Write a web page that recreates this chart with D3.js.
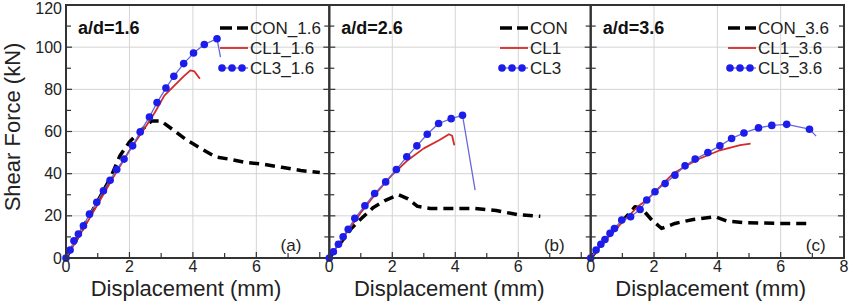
<!DOCTYPE html>
<html>
<head>
<meta charset="utf-8">
<script src="https://cdn.jsdelivr.net/npm/d3@7"></script>
<style>
  body { margin: 0; background: #fff; }
  svg { display: block; font-family: "Liberation Sans", Arial, sans-serif; }
</style>
</head>
<body>
<script>
// data: [displacement mm, shear force kN]
const con16 = [[0,0],[0.5,13.5],[1,27],[1.4,38],[1.7,48.5],[2.0,55],[2.4,61],[2.7,65],[3.0,65],[3.4,60.5],[3.8,56],[4.3,51.5],[4.7,48],[5.1,47],[5.6,45.5],[6.2,44.5],[6.8,43],[7.4,41.5],[8.0,40.5]];
const cl1_16 = [[0,0],[0.5,12.5],[1,25.5],[1.5,38.5],[2,51],[2.5,62],[2.8,69],[3.1,77],[3.4,81.5],[3.7,86],[3.92,89],[4.05,88.5],[4.22,85]];
const cl3_16 = [[0,0],[0.13,3.8],[0.25,8.2],[0.39,11.4],[0.55,15.3],[0.74,20.8],[0.97,26.4],[1.18,31.9],[1.39,36.9],[1.6,42],[1.83,46.9],[2.1,53.2],[2.34,59.8],[2.63,66.9],[2.87,73.7],[3.15,80.6],[3.4,86.2],[3.71,92.2],[4.02,97.2],[4.36,101.3],[4.76,104],[4.87,95.3]];

const con26 = [[0,0],[0.3,6],[0.7,14],[1.0,18.5],[1.4,24],[1.8,27.5],[2.2,30],[2.5,28],[2.8,24.5],[3.2,23.5],[4.0,23.5],[4.6,23.5],[5.3,22.5],[6.0,20.5],[6.7,19.8]];
const cl1_26 = [[0,0],[0.5,11],[1,21.5],[1.5,31],[2,39.5],[2.5,46.5],[3,52],[3.5,56],[3.8,58.7],[3.9,58],[3.97,53.5]];
const cl3_26 = [[0,0],[0.13,3],[0.29,6.5],[0.44,10.1],[0.6,13.6],[0.81,18.8],[1.13,24.8],[1.44,30.6],[1.79,36.1],[2.13,42],[2.46,48],[2.78,53.2],[3.11,58.7],[3.47,63.8],[3.87,66.1],[4.23,67.7],[4.63,32.2]];

const con36 = [[0,0],[0.5,9.5],[1.0,17.5],[1.4,24.3],[1.61,23.5],[1.93,18],[2.24,14],[2.66,16.4],[3.24,18.3],[3.93,19.6],[4.3,17.5],[4.93,16.7],[5.98,16.4],[6.93,16.4]];
const cl1_36 = [[0,0],[0.5,9],[1,17],[1.5,24.5],[1.77,27.5],[2.2,34],[2.61,40.1],[3.05,44],[3.45,47.2],[4.08,51.1],[4.72,53.5],[5.05,54.3]];
const cl3_36 = [[0,0],[0.17,3.8],[0.32,6.5],[0.45,8.8],[0.61,11.7],[0.75,14],[0.98,18],[1.26,19.6],[1.56,23],[1.77,27.5],[2.03,31.4],[2.35,35.3],[2.66,39.3],[2.98,43.7],[3.3,46.9],[3.7,50],[4.08,53.2],[4.45,56.7],[4.84,59.3],[5.3,61.7],[5.72,62.9],[6.19,63.4],[6.91,61.1],[7.12,57.8]];

const legend16 = ["CON_1.6", "CL1_1.6", "CL3_1.6"];
const legend26 = ["CON", "CL1", "CL3"];
const legend36 = ["CON_3.6", "CL1_3.6", "CL3_3.6"];
const ratioLabels = ["a/d=1.6", "a/d=2.6", "a/d=3.6"];
const panelLetters = ["(a)", "(b)", "(c)"];
const yTicks = [0, 20, 40, 60, 80, 100, 120];
const xTicks1 = [0, 2, 4, 6];
const xTicks3 = [0, 2, 4, 6, 8];

const W = 849, H = 304;
const plotTop = 5, plotBottom = 258;

const panels = [
    {left: 66, right: 329.3, xMax: 8.3, series: [con16, cl1_16, cl3_16], legend: legend16, legendX: 220, xTicks: xTicks1},
    {left: 329.3, right: 590.7, xMax: 8.3, series: [con26, cl1_26, cl3_26], legend: legend26, legendX: 500, xTicks: xTicks1},
    {left: 590.7, right: 844, xMax: 8, series: [con36, cl1_36, cl3_36], legend: legend36, legendX: 728, xTicks: xTicks3},
];

const styles = [
    {stroke: "#000", width: 3.5, dash: "10,6", markers: false},
    {stroke: "#d42a2a", width: 1.8, dash: null, markers: false},
    {stroke: "#6666dd", width: 1.3, dash: null, markers: true},
];
const markerColour = "#1c1ceb";

const svg = d3.select("body").append("svg")
    .attr("width", W)
    .attr("height", H);

const y = d3.scaleLinear().domain([0, 120]).range([plotBottom, plotTop]);

panels.forEach((p, i) => {
    const x = d3.scaleLinear().domain([0, p.xMax]).range([p.left, p.right]);
    const g = svg.append("g");

    // grid
    g.selectAll(".vgrid").data([2, 4, 6]).enter().append("line")
        .attr("x1", d => x(d)).attr("x2", d => x(d))
        .attr("y1", plotTop).attr("y2", plotBottom)
        .attr("stroke", "#d4d4d4").attr("stroke-width", 1);
    g.selectAll(".hgrid").data([20, 40, 60, 80, 100]).enter().append("line")
        .attr("x1", p.left).attr("x2", p.right)
        .attr("y1", d => y(d)).attr("y2", d => y(d))
        .attr("stroke", "#d4d4d4").attr("stroke-width", 1);

    // inward ticks
    d3.range(0, 121, 10).forEach(v => {
        const len = v % 20 === 0 ? 6 : 5;
        g.append("line").attr("x1", p.left).attr("x2", p.left + len)
            .attr("y1", y(v)).attr("y2", y(v)).attr("stroke", "#333").attr("stroke-width", 1.2);
        g.append("line").attr("x1", p.right).attr("x2", p.right - len)
            .attr("y1", y(v)).attr("y2", y(v)).attr("stroke", "#333").attr("stroke-width", 1.2);
    });
    d3.range(0, Math.floor(p.xMax) + 1, 1).forEach(v => {
        const len = v % 2 === 0 ? 6 : 5;
        g.append("line").attr("x1", x(v)).attr("x2", x(v))
            .attr("y1", plotBottom).attr("y2", plotBottom - len).attr("stroke", "#333").attr("stroke-width", 1.2);
    });

    // curves
    const line = d3.line().x(d => x(d[0])).y(d => y(d[1]));
    p.series.forEach((s, k) => {
        const st = styles[k];
        g.append("path").datum(s)
            .attr("d", line)
            .attr("fill", "none")
            .attr("stroke", st.stroke)
            .attr("stroke-width", st.width)
            .attr("stroke-dasharray", st.dash)
            .attr("stroke-linejoin", "round");
        if (st.markers) {
            g.selectAll(".mk").data(s.slice(0, -1)).enter().append("circle")
                .attr("cx", d => x(d[0]))
                .attr("cy", d => y(d[1]))
                .attr("r", 3.8)
                .attr("fill", markerColour);
        }
    });

    // frame
    g.append("rect")
        .attr("x", p.left).attr("y", plotTop)
        .attr("width", p.right - p.left).attr("height", plotBottom - plotTop)
        .attr("fill", "none").attr("stroke", "#333").attr("stroke-width", 2);

    // x tick labels
    g.selectAll(".xl").data(p.xTicks).enter().append("text")
        .attr("x", d => x(d)).attr("y", 271.5)
        .attr("text-anchor", "middle")
        .attr("font-size", 16).attr("fill", "#222")
        .text(d => d);

    // x title
    g.append("text")
        .attr("x", p.left + 120).attr("y", 296)
        .attr("text-anchor", "middle")
        .attr("font-size", 22).attr("fill", "#222")
        .text("Displacement (mm)");

    // ratio label
    g.append("text")
        .attr("x", p.left + 12).attr("y", 28)
        .attr("font-size", 18).attr("font-weight", "bold").attr("fill", "#111")
        .attr("dominant-baseline", "central")
        .text(ratioLabels[i]);

    // panel letter
    g.append("text")
        .attr("x", p.left + 225).attr("y", 245)
        .attr("text-anchor", "middle").attr("dominant-baseline", "central")
        .attr("font-size", 17).attr("fill", "#222")
        .text(panelLetters[i]);

    // legend
    p.legend.forEach((name, k) => {
        const st = styles[k];
        const ly = 28 + k * 20;
        const lx = p.legendX;
        if (st.markers) {
            g.append("line").attr("x1", lx).attr("x2", lx + 28).attr("y1", ly).attr("y2", ly)
                .attr("stroke", st.stroke).attr("stroke-width", st.width);
            [2, 12, 22].forEach(o => {
                g.append("circle").attr("cx", lx + o).attr("cy", ly).attr("r", 3.8).attr("fill", markerColour);
            });
        } else {
            g.append("line").attr("x1", lx).attr("x2", lx + 28).attr("y1", ly).attr("y2", ly)
                .attr("stroke", st.stroke).attr("stroke-width", st.width)
                .attr("stroke-dasharray", st.dash ? "12,5" : null);
        }
        g.append("text")
            .attr("x", lx + 30).attr("y", ly)
            .attr("dominant-baseline", "central")
            .attr("font-size", 17).attr("fill", "#222")
            .text(name);
    });
});

// y tick labels on first panel only
svg.selectAll(".yl").data(yTicks).enter().append("text")
    .attr("x", 62).attr("y", d => d === 120 ? 14 : y(d))
    .attr("text-anchor", "end").attr("dominant-baseline", d => d === 120 ? "auto" : "central")
    .attr("font-size", 16).attr("fill", "#222")
    .text(d => d);

svg.append("text")
    .attr("transform", "translate(20,127) rotate(-90)")
    .attr("text-anchor", "middle")
    .attr("font-size", 22).attr("fill", "#222")
    .text("Shear Force (kN)");
</script>
</body>
</html>
